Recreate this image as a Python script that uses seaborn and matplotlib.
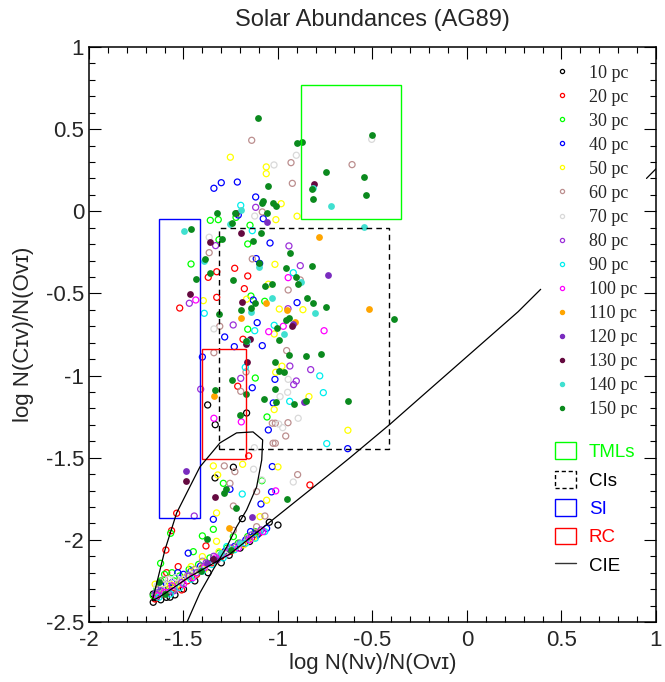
import numpy as np
import pandas as pd
import matplotlib
matplotlib.use("Agg")
import matplotlib.pyplot as plt
import seaborn as sns
from matplotlib.lines import Line2D
from matplotlib.patches import Patch, Rectangle
from matplotlib.ticker import MultipleLocator, FuncFormatter

# =========================
# data
# =========================
x_10 = [-1.372, -1.332, -1.166, -1.236, -1.333, -1.189, -1.046, -1.122, -1.258,
        -1.66, -1.645, -1.62, -1.59, -1.571, -1.545, -1.50, -1.44, -1.37, -1.30,
        -1.20, -1.15, -1.00, -1.66]
y_10 = [-1.179, -1.299, -1.228, -1.558, -1.623, -1.871, -1.893, -1.964, -2.094,
        -2.38, -2.355, -2.365, -2.35, -2.349, -2.335, -2.30, -2.25, -2.20, -2.14,
        -2.05, -2.01, -1.91, -2.33]

x_20 = [-1.324, -1.229, -1.160, -1.369, -1.178, -1.324, -1.520, -1.185, -1.213,
        -1.155, -0.831, -1.536, -1.563, -1.593, -1.381, -1.528, -1.589, -1.510,
        -1.184, -1.65, -1.61, -1.58, -1.55, -1.48, -1.43, -1.40, -1.35, -1.30,
        -1.25, -1.14, -1.10]
y_20 = [-0.368, -0.347, -0.394, -0.402, -0.471, -0.524, -0.589, -0.779, -1.065,
        -1.489, -1.666, -1.838, -1.944, -2.062, -2.037, -2.163, -2.200, -2.305,
        -2.025, -2.36, -2.33, -2.30, -2.29, -2.25, -2.21, -2.17, -2.14, -2.10,
        -2.07, -1.99, -1.96]

x_30 = [-1.358, -1.316, -1.222, -1.148, -1.312, -1.160, -1.460, -1.143, -1.070,
        -1.160, -1.120, -1.058, -1.289, -1.085, -1.342, -1.568, -1.400, -1.448,
        -1.621, -1.561, -1.236, -1.66, -1.64, -1.62, -1.60, -1.58, -1.55, -1.52,
        -1.47, -1.42, -1.36, -1.31, -1.27, -1.21, -1.16, -1.12]
y_30 = [-0.055, -0.051, -0.037, -0.085, -0.173, -0.199, -0.321, -0.516, -0.548,
        -0.718, -1.015, -1.252, -1.656, -1.640, -1.936, -1.960, -1.976, -2.072,
        -2.143, -2.200, -1.980, -2.34, -2.30, -2.25, -2.21, -2.28, -2.25, -2.22,
        -2.18, -2.15, -2.11, -2.08, -2.05, -2.02, -1.98, -1.95]

x_40 = [-1.339, -1.300, -1.215, -1.118, -1.210, -1.078, -1.042, -1.115, -1.097,
        -1.131, -0.899, -1.110, -1.282, -1.231, -1.083, -1.400, -1.016, -1.136,
        -1.025, -1.051, -0.631, -1.030, -1.254, -1.034, -1.090, -1.342, -1.475,
        -1.145, -1.64, -1.62, -1.59, -1.56, -1.53, -1.50, -1.46, -1.41, -1.34,
        -1.28, -1.23, -1.17, -1.11, -1.06]
y_40 = [0.140, 0.174, 0.178, 0.087, -0.023, -0.045, -0.193, -0.288, -0.317,
        -0.540, -0.556, -0.678, -0.765, -0.824, -0.818, -0.887, -1.023, -1.074,
        -1.167, -1.331, -1.445, -1.554, -1.692, -1.708, -1.782, -1.875, -2.081,
        -1.950, -2.32, -2.28, -2.27, -2.26, -2.20, -2.21, -2.19, -2.16, -2.12,
        -2.07, -2.04, -2.00, -1.97, -1.93]

x_50 = [-1.252, -1.062, -1.062, -0.983, -1.011, -0.899, -1.016, -1.395, -1.166,
        -0.993, -0.868, -1.020, -0.979, -1.012, -0.836, -1.020, -0.630, -1.051,
        -1.342, -1.319, -1.187, -1.000, -1.325, -1.060, -1.095, -1.325, -1.400,
        -1.312, -1.460, -1.65, -1.63, -1.60, -1.57, -1.53, -1.49, -1.45, -1.39,
        -1.33, -1.24, -1.18, -1.13]
y_50 = [0.329, 0.270, 0.229, 0.046, -0.051, -0.030, -0.323, -0.544, -0.535,
        -0.595, -0.599, -0.747, -0.943, -0.980, -1.128, -1.207, -1.333, -0.444,
        -1.550, -1.605, -1.540, -1.556, -1.836, -1.759, -1.859, -2.009, -2.102,
        -2.072, -2.163, -2.27, -2.33, -2.30, -2.27, -2.27, -2.23, -2.22, -2.18,
        -2.13, -2.06, -2.03, -1.99]

x_60 = [-1.139, -0.931, -0.608, -0.924, -1.083, -1.364, -1.136, -0.946, -1.308,
        -1.339, -0.954, -1.169, -1.197, -1.014, -1.030, -0.947, -0.959, -1.026,
        -1.014, -0.882, -1.284, -1.228, -1.254, -0.896, -1.113, -1.236, -1.069,
        -1.236, -1.113, -1.63, -1.60, -1.56, -1.52, -1.48, -1.44, -1.40, -1.32,
        -1.27, -1.22, -1.16]
y_60 = [0.432, 0.296, 0.284, 0.170, -0.004, -0.252, -0.290, -0.479, -0.700,
        -0.861, -0.848, -0.978, -1.096, -1.290, -1.290, -1.287, -1.368, -1.412,
        -1.412, -0.418, -1.550, -1.585, -1.656, -1.603, -1.706, -1.794, -1.855,
        -1.942, -1.920, -2.30, -2.24, -2.31, -2.25, -2.22, -2.18, -2.13, -2.12,
        -2.07, -2.04, -1.99]

x_70 = [-1.021, -0.903, -1.123, -1.364, -0.504, -1.339, -0.946, -0.949, -0.989,
        -0.996, -0.975, -0.893, -1.125, -1.129, -0.919, -1.086, -1.64, -1.61,
        -1.58, -1.54, -1.50, -1.46, -1.42, -1.38, -1.33, -1.28]
y_70 = [0.282, 0.341, -0.029, -0.158, 0.438, -0.716, -1.023, -1.102, -1.128,
        -1.295, -1.317, -1.260, -1.439, -1.570, -1.648, -1.635, -2.28, -2.27,
        -2.24, -2.23, -2.24, -2.21, -2.19, -2.16, -2.10, -2.09]

x_80 = [-1.118, -1.330, -0.942, -0.882, -1.469, -1.237, -0.947, -0.937, -0.827,
        -1.197, -0.903, -0.917, -1.409, -1.443, -1.65, -1.62, -1.58, -1.55,
        -1.51, -1.47, -1.43, -1.38, -1.34, -1.30, -1.25, -1.20, -1.14, -1.09]
y_80 = [0.024, -0.209, -0.211, -0.331, -0.560, -0.692, -0.593, -0.942, -0.964,
        -1.017, -1.033, -1.055, -1.083, -1.855, -2.33, -2.31, -2.32, -2.31,
        -2.26, -2.22, -2.20, -2.14, -2.10, -2.09, -2.05, -2.02, -1.97, -1.94]

x_90 = [-1.197, -1.136, -0.919, -1.390, -1.123, -1.020, -1.173, -0.779, -0.760,
        -0.938, -0.742, -1.189, -1.271, -1.63, -1.57, -1.52, -1.46, -1.40, -1.35,
        -1.29, -1.23, -1.17, -1.12, -1.07]
y_90 = [0.036, -0.118, -0.374, -0.621, -0.727, -0.694, -0.950, -1.002, -1.104,
        -1.157, -1.414, -1.721, -2.041, -2.35, -2.33, -2.29, -2.24, -2.19, -2.15,
        -2.11, -2.06, -2.02, -1.99, -1.95]

x_100 = [-0.946, -1.435, -0.972, -1.049, -0.756, -1.339, -1.194, -1.012, -1.64,
         -1.60, -1.56, -1.50, -1.45, -1.39, -1.33, -1.27, -1.21, -1.15, -1.08]
y_100 = [-0.404, -0.540, -0.700, -0.733, -0.727, -1.260, -1.282, -1.702, -2.34,
         -2.32, -2.28, -2.27, -2.23, -2.17, -2.11, -2.08, -2.05, -2.00, -1.95]

x_110 = [-0.781, -1.063, -0.951, -1.194, -0.910, -0.520, -1.339, -1.261]
y_110 = [-0.158, -0.560, -0.601, -0.649, -0.676, -0.593, -1.124, -1.926]

x_120 = [-1.058, -0.735, -0.919, -0.861, -1.487, -1.139, -1.378, -1.33]
y_120 = [-0.063, -0.390, -0.686, -1.161, -1.583, -1.859, -2.143, -2.12]

x_130 = [-0.810, -1.224, -1.197, -1.360, -1.467, -1.192, -1.171, -1.150, -0.928,
         -1.166, -1.487, -1.333, -1.342]
y_130 = [0.168, -0.008, -0.130, -0.187, -0.501, -0.554, -0.808, -0.779, -0.698,
         -0.919, -1.640, -1.737, -2.118]

x_140 = [-1.496, -0.720, -0.813, -0.545, -1.254, -1.197, -1.390, -1.101, -0.878,
         -1.029, -1.144, -0.804, -0.970, -1.162, -1.30, -1.20]
y_140 = [-0.118, 0.030, 0.144, -0.096, -0.077, 0.008, -0.302, -0.337, -0.432,
         -0.526, -0.613, -0.621, -0.749, -0.787, -2.08, -2.02]

x_150 = [-1.107, -0.901, -0.875, -0.504, -0.746, -0.543, -0.533, -0.817, -0.818,
         -1.055, -1.079, -1.083, -1.026, -1.011, -1.058, -1.323, -1.228, -1.242,
         -1.462, -1.298, -1.131, -1.090, -0.938, -1.386, -1.099, -0.959, -0.822,
         -1.360, -1.435, -1.237, -0.906, -1.067, -1.030, -0.896, -0.848, -0.817,
         -0.748, -1.194, -1.123, -1.141, -1.310, -0.388, -0.959, -0.942, -1.007,
         -0.995, -1.169, -0.943, -0.852, -0.771, -1.014, -0.993, -0.968, -1.242,
         -1.333, -1.168, -1.014, -1.076, -1.012, -0.917, -0.853, -0.630, -1.203,
         -1.277, -1.286, -1.224, -1.376, -0.951, -1.409, -1.632, -1.60, -1.25]
y_150 = [0.566, 0.418, 0.422, 0.464, 0.237, 0.211, 0.099, 0.075, 0.134,
         0.156, 0.065, 0.049, 0.049, 0.034, -0.010, -0.012, -0.012, -0.069,
         -0.110, -0.167, -0.181, -0.132, -0.252, -0.289, -0.315, -0.343, -0.331,
         -0.374, -0.414, -0.418, -0.400, -0.457, -0.442, -0.444, -0.526, -0.556,
         -0.581, -0.601, -0.560, -0.589, -0.625, -0.654, -0.662, -0.651, -0.708,
         -0.783, -0.789, -0.875, -0.879, -0.868, -0.917, -0.972, -0.976, -1.027,
         -1.088, -1.114, -1.080, -1.144, -1.159, -1.175, -1.155, -1.157, -1.238,
         -1.692, -1.717, -1.808, -1.996, -1.751, -2.187, -2.254, -2.33, -2.06]

# regions
tmls_x = [-0.88, -0.35]
tmls_y = [-0.05, 0.77]
cis_x = [-1.31, -0.41]
cis_y = [-1.45, -0.10]
si_x = [-1.63, -1.41]
si_y = [-1.87, -0.05]
rc_x = [-1.40, -1.17]
rc_y = [-1.51, -0.84]

# CIE track
cie_x = [-1.49, -1.481, -1.413, -1.344, -1.271, -1.219, -1.166, -1.113, -1.086,
         -1.081, -1.132, -1.219, -1.307, -1.413, -1.483, -1.536, -1.598, -1.645,
         -1.665, -1.624, -1.466, -1.254, -1.051, -0.725, -0.619, -0.407, -0.249,
         0.271, 0.390]
cie_y = [-2.52, -2.500, -2.323, -2.183, -2.043, -1.921, -1.818, -1.678, -1.514,
         -1.392, -1.343, -1.349, -1.410, -1.556, -1.715, -1.836, -2.061, -2.28,
         -2.37, -2.346, -2.224, -2.086, -1.899, -1.599, -1.500, -1.296, -1.136,
         -0.611, -0.475]
cie2_x = [0.95, 1.01]
cie2_y = [0.20, 0.27]

labels = ['10 pc', '20 pc', '30 pc', '40 pc', '50 pc', '60 pc', '70 pc', '80 pc',
          '90 pc', '100 pc', '110 pc', '120 pc', '130 pc', '140 pc', '150 pc']
colors = ['black', '#ff0000', '#00ff00', '#0000ff', '#ffff00', '#bc8f8f', '#d9d9d9',
          '#9b30d9', '#00eeee', '#ff00ff', '#ffa500', '#7a2cbf', '#650a40',
          '#40e0d0', '#0b8a1e']
filled = [False] * 10 + [True] * 5
xs_all = [x_10, x_20, x_30, x_40, x_50, x_60, x_70, x_80, x_90, x_100,
          x_110, x_120, x_130, x_140, x_150]
ys_all = [y_10, y_20, y_30, y_40, y_50, y_60, y_70, y_80, y_90, y_100,
          y_110, y_120, y_130, y_140, y_150]

# =========================
# plot
# =========================
sns.set_style("ticks")
plt.rcParams['font.family'] = ['Liberation Sans', 'DejaVu Sans']
plt.rcParams['axes.unicode_minus'] = False

fig = plt.figure(figsize=(6.65, 6.82), dpi=100)
ax = fig.add_axes([0.1338, 0.088, 0.8526, 0.8431])

for xs, ys, c, f in zip(xs_all, ys_all, colors, filled):
    df = pd.DataFrame({'x': xs, 'y': ys})
    if f:
        sns.scatterplot(data=df, x='x', y='y', color=c, s=24, linewidth=0,
                        ax=ax, legend=False, zorder=3)
    else:
        sns.scatterplot(data=df, x='x', y='y', s=19, facecolor='none',
                        edgecolor=c, linewidth=0.9, ax=ax, legend=False, zorder=3)

# boxes
ax.add_patch(Rectangle((tmls_x[0], tmls_y[0]), tmls_x[1] - tmls_x[0], tmls_y[1] - tmls_y[0],
                       fill=False, ec='#00ff00', lw=1, zorder=4))
ax.add_patch(Rectangle((cis_x[0], cis_y[0]), cis_x[1] - cis_x[0], cis_y[1] - cis_y[0],
                       fill=False, ec='black', lw=1, ls=(0, (4, 3)), zorder=4))
ax.add_patch(Rectangle((si_x[0], si_y[0]), si_x[1] - si_x[0], si_y[1] - si_y[0],
                       fill=False, ec='#0000ff', lw=1, zorder=4))
ax.add_patch(Rectangle((rc_x[0], rc_y[0]), rc_x[1] - rc_x[0], rc_y[1] - rc_y[0],
                       fill=False, ec='#ff0000', lw=1, zorder=4))

# CIE
sns.lineplot(x=cie_x, y=cie_y, sort=False, estimator=None, color='black', lw=0.9, ax=ax, zorder=4)
sns.lineplot(x=cie2_x, y=cie2_y, sort=False, estimator=None, color='black', lw=0.9, ax=ax, zorder=4)

ax.set_xlim(-2, 1)
ax.set_ylim(-2.5, 1)
ax.xaxis.set_major_locator(MultipleLocator(0.5))
ax.xaxis.set_minor_locator(MultipleLocator(0.1))
ax.yaxis.set_major_locator(MultipleLocator(0.5))
ax.yaxis.set_minor_locator(MultipleLocator(0.1))
fmt = FuncFormatter(lambda v, p: f"{v:g}")
ax.xaxis.set_major_formatter(fmt)
ax.yaxis.set_major_formatter(fmt)
ax.tick_params(which='both', direction='in', top=True, right=True, width=0.8, color='black',
               labelsize=16)
ax.tick_params(which='major', length=8.5)
ax.tick_params(which='minor', length=4.5)
ax.tick_params(axis='y', pad=3.5)
ax.tick_params(axis='x', pad=6)
for s in ax.spines.values():
    s.set_linewidth(1.1)
    s.set_color('black')

ax.set_title("Solar Abundances (AG89)", fontsize=17, pad=15)
ax.set_xlabel("log N(N\u1d20)/N(O\u1d20\u026a)", fontsize=16, labelpad=1)
ax.set_ylabel("log N(C\u026a\u1d20)/N(O\u1d20\u026a)", fontsize=16, labelpad=8.5)

# legend of distances
h1 = [Line2D([], [], marker='o', linestyle='none', ms=3, mew=0.9,
             mec=c, mfc=(c if f else 'none')) for c, f in zip(colors, filled)]
leg1 = ax.legend(h1, labels, loc='upper left', bbox_to_anchor=(0.834, 0.9053),
                 bbox_transform=fig.transFigure, frameon=False, borderpad=0,
                 borderaxespad=0, handlelength=0.8, handletextpad=1.1,
                 labelspacing=0.39, prop={'family': 'Liberation Serif', 'size': 13})
ax.add_artist(leg1)

# legend of regions
h2 = [Patch(facecolor='none', edgecolor='#00ff00', lw=1),
      Patch(facecolor='none', edgecolor='black', lw=1, ls=(0, (3, 2))),
      Patch(facecolor='none', edgecolor='#0000ff', lw=1),
      Patch(facecolor='none', edgecolor='#ff0000', lw=1),
      Line2D([], [], color='#333333', lw=1)]
leg2 = ax.legend(h2, ['TMLs', 'CIs', 'SI', 'RC', 'CIE'], loc='upper left',
                 bbox_to_anchor=(0.8346, 0.3513), bbox_transform=fig.transFigure,
                 frameon=False, borderpad=0, borderaxespad=0, handlelength=1.12,
                 handleheight=1.0, handletextpad=0.69, labelspacing=0.51,
                 prop={'family': 'Liberation Sans', 'size': 13.5})
for t, c in zip(leg2.get_texts(), ['#00ff00', 'black', '#0000ff', '#ff0000', 'black']):
    t.set_color(c)

fig.savefig("out.png", dpi=100)
